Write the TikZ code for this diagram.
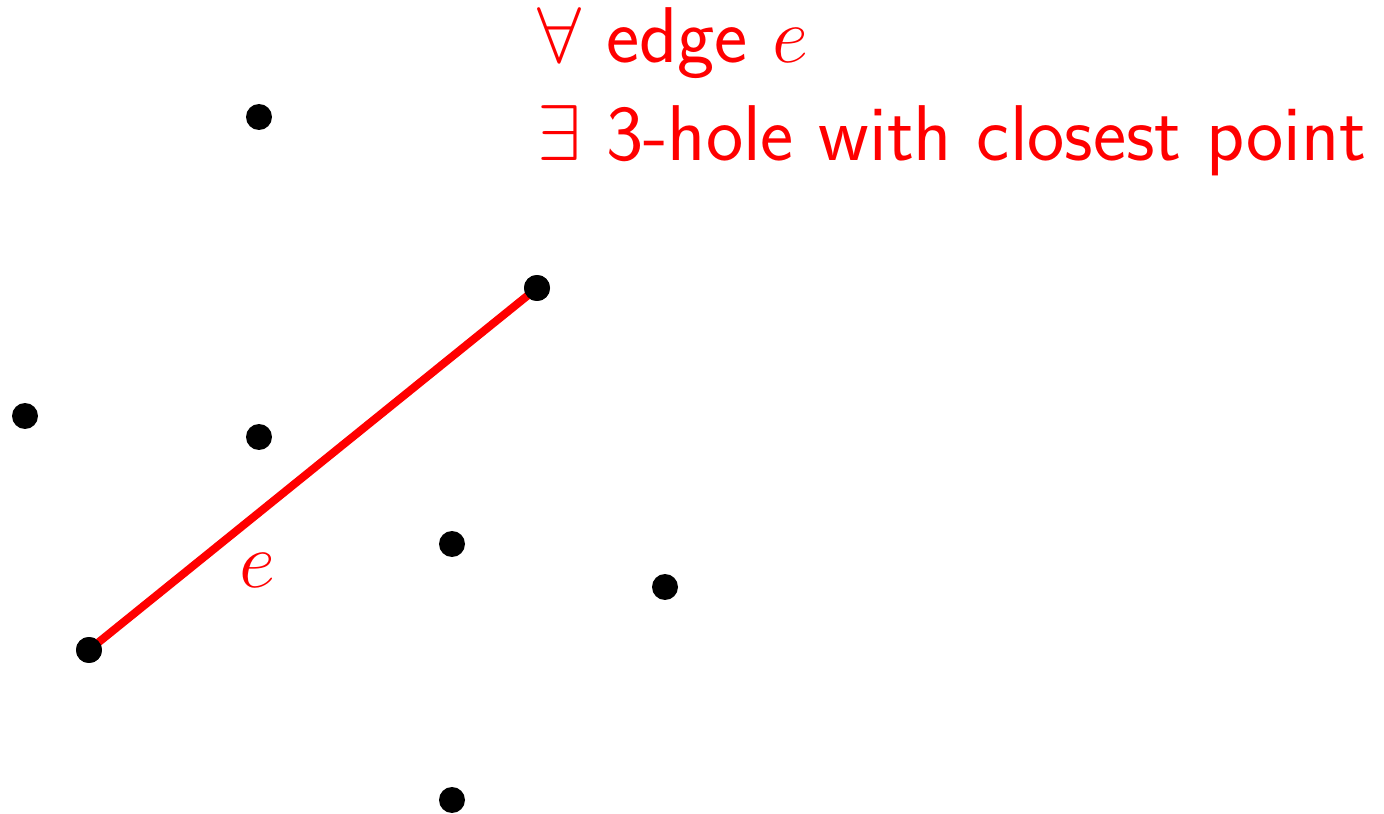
\RequirePackage{fix-cm}
\documentclass[tikz,border=0pt]{standalone}
\begin{document}
\begin{tikzpicture}[x=0.02cm,y=-0.02cm,
  dot/.style={circle,fill=black,inner sep=0pt,minimum size=0.52cm},
  lbl/.style={text=red,inner sep=0pt,font=\fontsize{45}{54}\selectfont\sffamily}]
\useasboundingbox (0,0) rectangle (1384,814);
\node[dot] (p1) at (259,117) {};
\node[dot] (p2) at (537,288) {};
\node[dot] (p3) at (25,416) {};
\node[dot] (p4) at (259,437) {};
\node[dot] (p5) at (452,544) {};
\node[dot] (p6) at (665,587) {};
\node[dot] (p7) at (89,650) {};
\node[dot] (p8) at (452,800) {};
\draw[red,line width=0.16cm] (p7.center) -- (p2.center);
\node[dot] at (p7) {};
\node[dot] at (p2) {};
\node[lbl,anchor=base] (el) at (257,587) {$e$};
\node[lbl,anchor=base west] (t1) at (537,63) {$\forall$ edge $e$};
\node[lbl,anchor=base west] (t2) at (537,161) {$\exists$ 3-hole with closest point};
\end{tikzpicture}
\end{document}
